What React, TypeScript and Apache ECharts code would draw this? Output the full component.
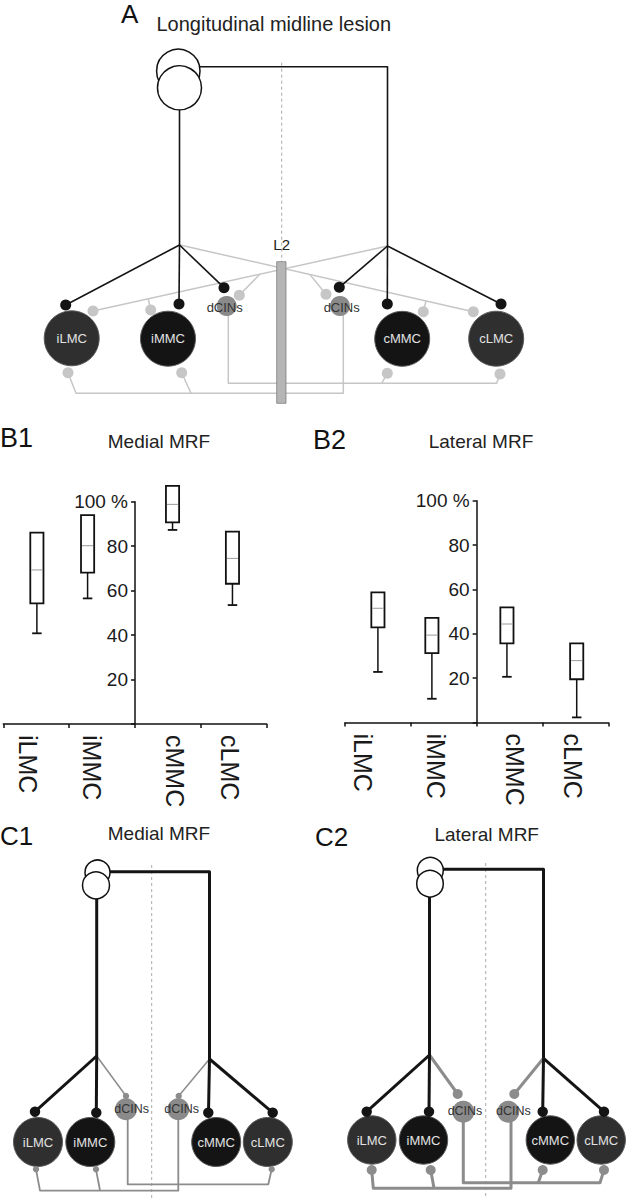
import React, { useEffect, useRef } from 'react';
import * as echarts from 'echarts';

// ---------- Data (B1 / B2 box plots) ----------
const categories = ['iLMC', 'iMMC', 'cMMC', 'cLMC'];
const yTickValues = [0, 20, 40, 60, 80, 100];
const xTickValues = [-2, -1, 0, 1, 2];

// B1 Medial MRF
const medialPos = [-1.49, -0.72, 0.57, 1.48];
const medialLabelPos = [-1.62, -0.65, 0.61, 1.44];
const medialMin = [40.8, 56.5, 87.3, 53.5];
const medialQ1 = [54.3, 68.1, 90.7, 63.1];
const medialMedian = [69.3, 80.2, 98.8, 74.5];
const medialQ3 = [86.1, 94.0, 107.1, 86.5];
const medialMax = [86.1, 94.0, 107.1, 86.5];

// B2 Lateral MRF
const lateralPos = [-1.5, -0.68, 0.46, 1.52];
const lateralLabelPos = [-1.72, -0.62, 0.58, 1.46];
const lateralMin = [22.8, 10.7, 20.6, 2.3];
const lateralQ1 = [42.9, 31.3, 35.7, 19.5];
const lateralMedian = [51.5, 39.4, 44.4, 27.9];
const lateralQ3 = [58.7, 47.2, 51.9, 35.7];
const lateralMax = [58.7, 47.2, 51.9, 35.7];

const FONT = '"Liberation Sans", Arial, Helvetica, sans-serif';
const BLACK = '#141414';
const LGREY = '#c6c6c6';
const MGREY = '#8c8c8c';
const DARKCELL = '#2f2f2f';

type Pt = [number, number];

const seg = (pts: Pt[], stroke: string, w: number, z = 1, dash?: number[]) => ({
  type: 'polyline',
  z,
  silent: true,
  shape: { points: pts },
  style: { stroke, lineWidth: w, fill: null, lineDash: dash || null, lineJoin: 'round', lineCap: 'butt' },
});
const circ = (cx: number, cy: number, r: number, fill: string, z = 4, stroke?: string, lw = 0) => ({
  type: 'circle',
  z,
  silent: true,
  shape: { cx, cy, r },
  style: { fill, stroke: stroke || null, lineWidth: lw },
});
const txt = (x: number, y: number, text: string, size: number, fill: string, align = 'center', z = 7) => ({
  type: 'text',
  z,
  silent: true,
  x,
  y,
  style: {
    text,
    fill,
    fontSize: size,
    fontFamily: FONT,
    textAlign: align,
    textVerticalAlign: 'middle',
    align,
    verticalAlign: 'middle',
  },
});
const cell = (cx: number, cy: number, r: number, fill: string, label: string, size: number) => [
  circ(cx, cy, r, fill, 4, '#5a5a5a', 1),
  txt(cx, cy, label, size, '#e2e2e2'),
];

function buildPanelA(): any[] {
  const els: any[] = [];
  els.push(txt(121, 14.2, 'A', 26, '#111', 'left'));
  els.push(txt(156.5, 24.2, 'Longitudinal midline lesion', 20, '#222', 'left'));
  els.push(seg([[281.7, 62.7], [281.7, 262]], '#aaaaaa', 1, 0, [3, 3]));
  els.push(seg([[387.5, 246], [93, 311]], LGREY, 1.5));
  els.push(seg([[148.3, 298.8], [150.7, 310]], LGREY, 1.5));
  els.push(seg([[260, 274.1], [239.3, 295.3]], LGREY, 1.5));
  els.push(seg([[180, 245], [473.3, 311.7]], LGREY, 1.5));
  els.push(seg([[310, 274.6], [326, 294.3]], LGREY, 1.5));
  els.push(seg([[426, 300.9], [423.3, 311.7]], LGREY, 1.5));
  els.push(seg([[68, 372.7], [76, 393.3], [343.3, 393.3], [343.3, 306]], LGREY, 1.5));
  els.push(seg([[181.7, 372.7], [191, 393.3]], LGREY, 1.5));
  els.push(seg([[228.3, 306], [228.3, 383.3], [496.7, 383.3], [500, 374]], LGREY, 1.5));
  els.push(seg([[387.3, 373.3], [381.7, 383.3]], LGREY, 1.5));
  els.push(seg([[200, 66.7], [387.5, 66.7], [387.5, 246]], BLACK, 1.6, 2));
  els.push(seg([[179.5, 109.5], [179.5, 245]], BLACK, 1.6, 2));
  els.push(seg([[179.5, 245], [65.7, 305]], BLACK, 1.6, 2));
  els.push(seg([[179.5, 245], [179, 304]], BLACK, 1.6, 2));
  els.push(seg([[179.5, 245], [224, 287.7]], BLACK, 1.6, 2));
  els.push(seg([[387.5, 246], [339.3, 287.3]], BLACK, 1.6, 2));
  els.push(seg([[387.5, 246], [387.3, 304]], BLACK, 1.6, 2));
  els.push(seg([[387.5, 246], [501, 304]], BLACK, 1.6, 2));
  els.push(circ(178.3, 71, 21.7, '#ffffff', 3, '#111', 1.5));
  els.push(circ(179.5, 87.8, 22, '#ffffff', 3.5, '#111', 1.5));
  els.push({
    type: 'rect', z: 3, silent: true,
    shape: { x: 276.7, y: 261.7, width: 9.3, height: 141.6 },
    style: { fill: '#b5b5b5', stroke: '#7d7d7d', lineWidth: 0.8 },
  });
  els.push(txt(281.7, 244, 'L2', 15, '#222'));
  els.push(...cell(71.7, 338.3, 27.5, DARKCELL, 'iLMC', 13));
  els.push(...cell(168, 338.7, 27.5, BLACK, 'iMMC', 13));
  els.push(...cell(402.2, 338.8, 27.5, BLACK, 'cMMC', 13));
  els.push(...cell(496.2, 338.7, 27.5, DARKCELL, 'cLMC', 13));
  els.push(circ(226.7, 306, 10, '#8a8a8a', 4));
  els.push(circ(340, 306, 10, '#8a8a8a', 4));
  els.push(txt(224.7, 307.7, 'dCINs', 13, '#333'));
  els.push(txt(341.7, 307.7, 'dCINs', 13, '#333'));
  const gdots: Pt[] = [[93, 311], [150.7, 310], [239.3, 295.3], [473.3, 311.7], [326, 294.3], [423.3, 311.7],
    [68, 372.7], [181.7, 372.7], [387.3, 373.3], [500, 374]];
  gdots.forEach(([x, y]) => els.push(circ(x, y, 5.5, LGREY, 5)));
  const bdots: Pt[] = [[65.7, 305], [179, 304], [224, 287.7], [339.3, 287.3], [387.3, 304], [501, 304]];
  bdots.forEach(([x, y]) => els.push(circ(x, y, 5.5, BLACK, 5)));
  return els;
}

function buildPanelC1(): any[] {
  const els: any[] = [];
  els.push(txt(0, 836, 'C1', 26, '#111', 'left'));
  els.push(txt(159, 833.7, 'Medial MRF', 19, '#222'));
  els.push(seg([[151.7, 865], [151.7, 1199]], '#aaaaaa', 1, 0, [3, 3]));
  els.push(seg([[96.7, 1056], [126, 1096]], MGREY, 1.5));
  els.push(seg([[209.5, 1059], [178.7, 1096]], MGREY, 1.5));
  els.push(seg([[36, 1169.3], [40, 1190.7], [178.3, 1190.7], [178.3, 1113]], MGREY, 1.8));
  els.push(seg([[96, 1169.3], [100, 1190.7]], MGREY, 1.8));
  els.push(seg([[127.7, 1113], [127.7, 1184.3], [268.3, 1184.3], [271.7, 1169.3]], MGREY, 1.8));
  els.push(seg([[110, 871.7], [209.5, 871.7], [209.5, 1059]], BLACK, 3, 2));
  els.push(seg([[96.7, 898.5], [96.7, 1056]], BLACK, 3, 2));
  els.push(seg([[96.7, 1056], [35, 1111.7]], BLACK, 3, 2));
  els.push(seg([[96.7, 1056], [96.3, 1112.7]], BLACK, 3, 2));
  els.push(seg([[209.5, 1059], [208.5, 1112.7]], BLACK, 3, 2));
  els.push(seg([[209.5, 1059], [272.7, 1112.7]], BLACK, 3, 2));
  els.push(circ(97.5, 872.5, 12.5, '#ffffff', 3, '#111', 1.5));
  els.push(circ(96, 885.3, 13.5, '#ffffff', 3.5, '#111', 1.5));
  els.push(...cell(38, 1142, 24.5, DARKCELL, 'iLMC', 13));
  els.push(...cell(90.3, 1142, 24.5, BLACK, 'iMMC', 13));
  els.push(...cell(216.2, 1142, 24.5, BLACK, 'cMMC', 13));
  els.push(...cell(267.8, 1142, 24.5, DARKCELL, 'cLMC', 13));
  els.push(circ(126, 1109.3, 11, '#8a8a8a', 4));
  els.push(circ(178.3, 1109.3, 11, '#8a8a8a', 4));
  els.push(txt(131.7, 1109.3, 'dCINs', 12.5, '#333'));
  els.push(txt(181.7, 1109.3, 'dCINs', 12.5, '#333'));
  const gdots: Pt[] = [[126, 1096], [178.7, 1096], [36, 1169.3], [96, 1169.3], [271.7, 1169.3]];
  gdots.forEach(([x, y]) => els.push(circ(x, y, 3.2, MGREY, 5)));
  const bdots: Pt[] = [[35, 1111.7], [96.3, 1112.7], [208.3, 1112.7], [272.7, 1112.7]];
  bdots.forEach(([x, y]) => els.push(circ(x, y, 5.2, BLACK, 5)));
  return els;
}

function buildPanelC2(): any[] {
  const els: any[] = [];
  els.push(txt(315, 837, 'C2', 26, '#111', 'left'));
  els.push(txt(486.7, 834, 'Lateral MRF', 19, '#222'));
  els.push(seg([[485.7, 863], [485.7, 1199]], '#aaaaaa', 1, 0, [3, 3]));
  els.push(seg([[429.5, 1055], [457.7, 1094]], MGREY, 3));
  els.push(seg([[543.5, 1058.3], [514.3, 1094]], MGREY, 3));
  els.push(seg([[371.7, 1170], [373.3, 1188.3], [511, 1188.3], [511, 1112]], MGREY, 3));
  els.push(seg([[430.7, 1170], [434, 1188.3]], MGREY, 3));
  els.push(seg([[463.3, 1112], [463.3, 1182.7], [600, 1182.7], [604, 1170]], MGREY, 3));
  els.push(seg([[542.7, 1170], [538.3, 1182.7]], MGREY, 3));
  els.push(seg([[443.3, 869.3], [543.5, 869.3], [543.5, 1058.3]], BLACK, 3, 2));
  els.push(seg([[429.5, 896.5], [429.5, 1055]], BLACK, 3, 2));
  els.push(seg([[429.5, 1055], [366.7, 1111.7]], BLACK, 3, 2));
  els.push(seg([[429.5, 1055], [429, 1111.7]], BLACK, 3, 2));
  els.push(seg([[543.5, 1058.3], [542.7, 1111.7]], BLACK, 3, 2));
  els.push(seg([[543.5, 1058.3], [604, 1111.7]], BLACK, 3, 2));
  els.push(circ(430.3, 870.3, 13, '#ffffff', 3, '#111', 1.5));
  els.push(circ(430, 883.7, 13.3, '#ffffff', 3.5, '#111', 1.5));
  els.push(...cell(371.8, 1140, 24.2, DARKCELL, 'iLMC', 13));
  els.push(...cell(423.5, 1140, 24.2, BLACK, 'iMMC', 13));
  els.push(...cell(550.3, 1140, 24.2, BLACK, 'cMMC', 13));
  els.push(...cell(601.2, 1140, 24.2, DARKCELL, 'cLMC', 13));
  els.push(circ(463.3, 1111.7, 11, '#8a8a8a', 4));
  els.push(circ(508.3, 1111.7, 11, '#8a8a8a', 4));
  els.push(txt(465, 1111, 'dCINs', 12.5, '#333'));
  els.push(txt(513.3, 1111, 'dCINs', 12.5, '#333'));
  const gdots: Pt[] = [[457.7, 1094], [514.3, 1094], [371.7, 1170], [430.7, 1170], [542.7, 1170], [604, 1170]];
  gdots.forEach(([x, y]) => els.push(circ(x, y, 5, MGREY, 5)));
  const bdots: Pt[] = [[366.7, 1111.7], [429, 1111.7], [542.7, 1111.7], [604, 1111.7]];
  bdots.forEach(([x, y]) => els.push(circ(x, y, 5.2, BLACK, 5)));
  return els;
}

function buildBoxData(pos: number[], mn: number[], q1: number[], md: number[], q3: number[], mx: number[]) {
  return categories.map((_, i) => [pos[i], mn[i], q1[i], md[i], q3[i], mx[i]]);
}

function renderBox(_params: any, api: any) {
  const x = api.value(0);
  const lo = api.coord([x, api.value(1)]);
  const q1 = api.coord([x, api.value(2)]);
  const md = api.coord([x, api.value(3)]);
  const q3 = api.coord([x, api.value(4)]);
  const hi = api.coord([x, api.value(5)]);
  const w = api.size([0.2, 0])[0];
  const cap = w * 0.72;
  const cx = q1[0];
  const children: any[] = [
    { type: 'line', shape: { x1: cx, y1: lo[1], x2: cx, y2: q1[1] }, style: { stroke: '#111', lineWidth: 1.5 } },
    { type: 'line', shape: { x1: cx - cap / 2, y1: lo[1], x2: cx + cap / 2, y2: lo[1] }, style: { stroke: '#111', lineWidth: 1.8 } },
  ];
  if (hi[1] < q3[1] - 0.5) {
    children.push({ type: 'line', shape: { x1: cx, y1: hi[1], x2: cx, y2: q3[1] }, style: { stroke: '#111', lineWidth: 1.5 } });
    children.push({ type: 'line', shape: { x1: cx - cap / 2, y1: hi[1], x2: cx + cap / 2, y2: hi[1] }, style: { stroke: '#111', lineWidth: 1.8 } });
  }
  children.push({
    type: 'rect',
    shape: { x: cx - w / 2, y: q3[1], width: w, height: q1[1] - q3[1] },
    style: { fill: '#ffffff', stroke: '#111', lineWidth: 1.8 },
  });
  children.push({
    type: 'line',
    shape: { x1: cx - w / 2 + 1, y1: md[1], x2: cx + w / 2 - 1, y2: md[1] },
    style: { stroke: '#9a9a9a', lineWidth: 1 },
  });
  return { type: 'group', children };
}

function makeXAxis(gridIndex: number, labelPos: number[]) {
  return {
    type: 'value',
    gridIndex,
    min: -2,
    max: 2,
    interval: 1,
    axisLine: { show: true, onZero: true, lineStyle: { color: '#111', width: 1.5 } },
    axisTick: { show: true, length: 4, customValues: xTickValues, lineStyle: { color: '#111', width: 1.5 } },
    axisLabel: {
      show: true,
      customValues: labelPos,
      rotate: -90,
      margin: 11,
      fontSize: 25,
      fontFamily: FONT,
      color: '#1a1a1a',
      formatter: (v: number) => {
        const i = labelPos.findIndex((p) => Math.abs(p - v) < 1e-6);
        return i >= 0 ? categories[i] : '';
      },
    },
    splitLine: { show: false },
  };
}

function makeYAxis(gridIndex: number, gridWidth: number) {
  return {
    type: 'value',
    gridIndex,
    position: 'left',
    offset: -gridWidth / 2,
    min: 0,
    max: 100,
    interval: 20,
    axisLine: { show: true, onZero: false, lineStyle: { color: '#111', width: 1.5 } },
    axisTick: { show: true, length: 4, customValues: yTickValues, lineStyle: { color: '#111', width: 1.5 } },
    axisLabel: {
      show: true,
      margin: 7,
      fontSize: 19,
      fontFamily: FONT,
      color: '#1a1a1a',
      formatter: (v: number) => (v === 0 ? '' : v === 100 ? '100 %' : String(v)),
    },
    splitLine: { show: false },
  };
}

export default function App() {
  const ref = useRef<HTMLDivElement>(null);
  useEffect(() => {
    if (!ref.current) return;
    const chart = echarts.init(ref.current, null, { renderer: 'svg' });
    const elements = [
      ...buildPanelA(),
      txt(0, 438.3, 'B1', 27, '#111', 'left'),
      txt(159, 441.7, 'Medial MRF', 19, '#222'),
      txt(313, 439.5, 'B2', 27, '#111', 'left'),
      txt(481, 441.7, 'Lateral MRF', 19, '#222'),
      ...buildPanelC1(),
      ...buildPanelC2(),
    ];
    chart.setOption({
      animation: false,
      backgroundColor: '#ffffff',
      grid: [
        { left: 3.3, top: 501.7, width: 263.4, height: 222.3, containLabel: false, outerBoundsMode: 'none' },
        { left: 345, top: 500.7, width: 263.3, height: 221.8, containLabel: false, outerBoundsMode: 'none' },
      ],
      xAxis: [makeXAxis(0, medialLabelPos), makeXAxis(1, lateralLabelPos)],
      yAxis: [makeYAxis(0, 263.4), makeYAxis(1, 263.3)],
      series: [
        {
          type: 'custom',
          name: 'Medial MRF',
          xAxisIndex: 0,
          yAxisIndex: 0,
          clip: false,
          encode: { x: 0, y: [1, 2, 3, 4, 5] },
          data: buildBoxData(medialPos, medialMin, medialQ1, medialMedian, medialQ3, medialMax),
          renderItem: renderBox,
        },
        {
          type: 'custom',
          name: 'Lateral MRF',
          xAxisIndex: 1,
          yAxisIndex: 1,
          clip: false,
          encode: { x: 0, y: [1, 2, 3, 4, 5] },
          data: buildBoxData(lateralPos, lateralMin, lateralQ1, lateralMedian, lateralQ3, lateralMax),
          renderItem: renderBox,
        },
      ],
      graphic: { elements },
    });
    return () => chart.dispose();
  }, []);
  return (
    <div
      ref={ref}
      style={{ position: 'absolute', left: 0, top: 0, width: 626, height: 1199, background: '#fff' }}
    />
  );
}
